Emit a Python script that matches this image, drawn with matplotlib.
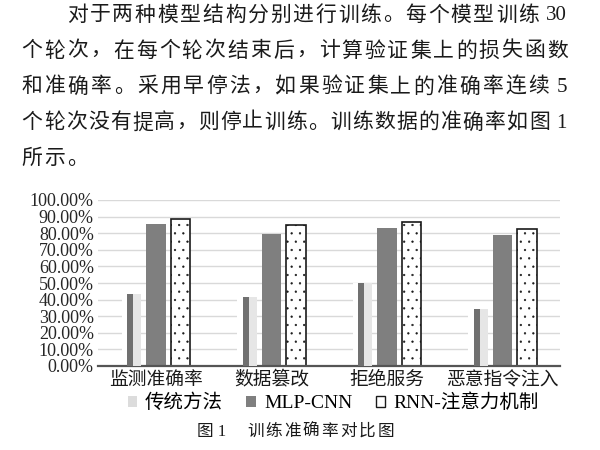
import numpy as np
import matplotlib
matplotlib.use('Agg')
import matplotlib.pyplot as plt
from matplotlib.patches import Patch

plt.rcParams['font.family'] = ['Liberation Serif', 'Noto Sans CJK SC']
plt.rcParams['hatch.linewidth'] = 0.4

# data
categories = ['监测准确率', '数据篡改', '拒绝服务', '恶意指令注入']
traditional = [43.6, 41.6, 50.2, 34.2]
mlp_cnn = [85.8, 79.8, 83.1, 78.7]
rnn_attn = [88.4, 85.2, 86.7, 82.8]
series_names = ['传统方法', 'MLP-CNN', 'RNN-注意力机制']
y_ticks = np.arange(0, 101, 10)

# paragraph above the chart: (chinese part, trailing latin part)
para_lines = [
    ('对于两种模型结构分别进行训练。每个模型训练', '30'),
    ('个轮次，在每个轮次结束后，计算验证集上的损失函数', ''),
    ('和准确率。采用早停法，如果验证集上的准确率连续', '5'),
    ('个轮次没有提高，则停止训练。训练数据的准确率如图', '1'),
    ('所示。', ''),
]
caption_num = '图 1'
caption_text = '训练准确率对比图'

W, H = 600, 450
fig = plt.figure(figsize=(6, 4.5), dpi=100)
renderer = fig.canvas.get_renderer()


def fx(x):
    return x / W


def fy(y):
    return 1 - y / H


# paragraph, one glyph at a time so the lines come out justified
fs = 15
adv = fs * 100 / 72  # advance of one CJK glyph in pixels
right = 567
for i, (cjk, tail) in enumerate(para_lines):
    x0 = 67 if i == 0 else 21.7
    y = 16 + i * 35.8
    end = right
    if tail:
        t = fig.text(fx(right), fy(y), tail, fontsize=fs, ha='right',
                     va='center', color='#1a1a1a')
        end = t.get_window_extent(renderer).x0 - 8
    n = len(cjk)
    if i == len(para_lines) - 1:
        pitch = 22.8
    else:
        pitch = (end - x0 - adv + 1) / (n - 1)
    for j, ch in enumerate(cjk):
        fig.text(fx(x0 + j * pitch), fy(y), ch, fontsize=fs, ha='left',
                 va='center', color='#1a1a1a', fontweight='light')

# chart
ax = fig.add_axes([98 / W, fy(366), 462 / W, 166 / H])
x = np.arange(len(categories))
unit = 115.5  # pixels per category
w = 19.5 / unit
off = 24.5 / unit

ax.bar(x - off, traditional, w, color='white', zorder=2)
ax.bar(x - off - 1 / unit, traditional, 6 / unit, color='#707070', zorder=3)
ax.bar(x - off + 6 / unit, traditional, 8 / unit, color='#e6e6e6', zorder=3)
ax.bar(x, mlp_cnn, w, color='#7f7f7f', zorder=2)
ax.bar(x + off, rnn_attn, w, facecolor='white', edgecolor='#1a1a1a',
       linewidth=1.2, hatch='..', zorder=2)

ax.set_xlim(-0.5, 3.5)
ax.set_ylim(0, 100)
ax.set_yticks(y_ticks)
ax.set_yticklabels(['%.2f%%' % v for v in y_ticks], fontsize=13, color='#262626')
ax.set_xticks(x)
ax.set_xticklabels(categories, fontsize=13.5, color='#1a1a1a')
ax.tick_params(length=0)
ax.tick_params(axis='y', pad=3)
ax.tick_params(axis='x', pad=4)
ax.yaxis.grid(True, color='#d9d9d9', linewidth=1)
ax.set_axisbelow(True)
for s in ['top', 'right', 'left']:
    ax.spines[s].set_visible(False)
ax.spines['bottom'].set_color('#555555')
ax.spines['bottom'].set_linewidth(1.6)

handles = [
    Patch(facecolor='#dcdcdc', edgecolor='none'),
    Patch(facecolor='#7f7f7f', edgecolor='none'),
    Patch(facecolor='white', edgecolor='#1a1a1a', linewidth=1),
]
fig.legend(handles, series_names, loc='center', bbox_to_anchor=(fx(333), fy(403)),
           ncol=3, frameon=False, fontsize=14, handlelength=0.5, handleheight=0.5,
           handletextpad=0.4, columnspacing=1.2)

# caption
fig.text(fx(197), fy(432), caption_num, fontsize=12, ha='left', va='center',
         color='#1a1a1a')
for j, ch in enumerate(caption_text):
    fig.text(fx(247 + j * 18.6), fy(432), ch, fontsize=12, ha='left',
             va='center', color='#1a1a1a', fontweight='light')

fig.savefig('out.png', dpi=100)
